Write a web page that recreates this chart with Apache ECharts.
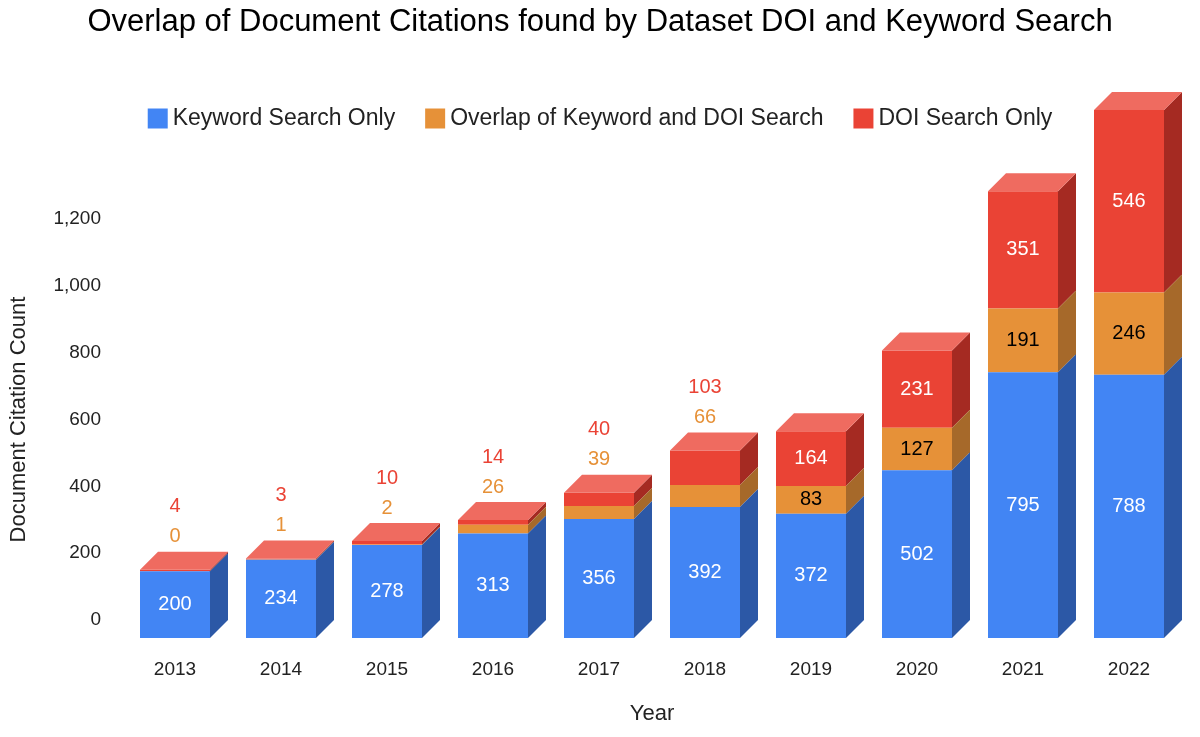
<!DOCTYPE html>
<html>
<head>
<meta charset="utf-8">
<script src="https://cdn.jsdelivr.net/npm/echarts@6/dist/echarts.min.js"></script>
<style>html,body{margin:0;padding:0;background:#fff}#chart{width:1200px;height:737px}</style>
</head>
<body>
<div id="chart"></div>
<script>
var years = ['2013','2014','2015','2016','2017','2018','2019','2020','2021','2022'];
var keywordOnly = [200,234,278,313,356,392,372,502,795,788];
var overlap = [0,1,2,26,39,66,83,127,191,246];
var doiOnly = [4,3,10,14,40,103,164,231,351,546];
var yTicks = [0,200,400,600,800,1000,1200];

var FONT = 'Liberation Sans';
var D = 18;       // depth offset of the 3d look
var BW = 70;      // bar width
var layers = [
  {name:'Keyword Search Only', vals:keywordOnly, front:'#4285f4', side:'#2c58a6', top:'#6c9ff6', text:'#fff'},
  {name:'Overlap of Keyword and DOI Search', vals:overlap, front:'#e69138', side:'#a6692a', top:'#eda860', text:'#000', outColor:'#e69138', minPx:25},
  {name:'DOI Search Only', vals:doiOnly, front:'#ea4335', side:'#a52a22', top:'#ef6b60', text:'#fff', outColor:'#ea4335', minPx:40}
];

var chart = echarts.init(document.getElementById('chart'));

function makeSeries(li) {
  var L = layers[li];
  var data = years.map(function (y, i) {
    var base = 0;
    for (var k = 0; k < li; k++) base += layers[k].vals[i];
    var total = keywordOnly[i] + overlap[i] + doiOnly[i];
    return [i, base, L.vals[i], total];
  });
  return {
    name: L.name,
    type: 'custom',
    clip: false,
    z: 10 - li,
    itemStyle: {color: L.front},
    data: data,
    renderItem: function (params, api) {
      var i = api.value(0), base = api.value(1), v = api.value(2), total = api.value(3);
      var c = api.coord([i, base]);
      var x1 = c[0] - BW / 2, x2 = c[0] + BW / 2;
      var yb = c[1] + D;
      var yt = api.coord([i, base + v])[1] + D;
      var h = yb - yt;
      var kids = [];
      if (h > 0.3) {
        kids.push({type:'rect', shape:{x:x1, y:yt, width:BW, height:h}, style:{fill:L.front}});
        kids.push({type:'polygon', shape:{points:[[x2,yt],[x2+D,yt-D],[x2+D,yb-D],[x2,yb]]}, style:{fill:L.side}});
      }
      var topY = api.coord([i, total])[1] + D;
      if (li === 2) {
        kids.push({type:'polygon', shape:{points:[[x1,topY],[x1+D,topY-D],[x2+D,topY-D],[x2,topY]]}, style:{fill:L.top}});
      }
      var label = String(v);
      var inside = !L.minPx || h >= L.minPx;
      var ty, col;
      if (inside) {
        ty = (yt + yb) / 2; col = L.text;
      } else {
        col = L.outColor;
        ty = topY - D - 15 - (li === 2 ? 30 : 0);
      }
      kids.push({type:'text', z2:20, style:{text:label, x:c[0], y:ty, fill:col, font:'20px ' + FONT, align:'center', verticalAlign:'middle'}});
      return {type:'group', children:kids};
    }
  };
}

chart.setOption({
  title: {text:'Overlap of Document Citations found by Dataset DOI and Keyword Search', left:'center', top:2,
    textStyle:{fontFamily:FONT, fontSize:31, fontWeight:'normal', color:'#000'}},
  legend: {top:102, left:'center', itemWidth:20, itemHeight:20, itemGap:30, icon:'rect',
    textStyle:{fontFamily:FONT, fontSize:23, color:'#222'},
    data: layers.map(function (l) { return {name:l.name, itemStyle:{color:l.front}}; })},
  grid: {left:121, right:18, top:219, bottom:117},
  xAxis: {type:'category', data:years, name:'Year', nameLocation:'middle', nameGap:83,
    nameTextStyle:{fontFamily:FONT, fontSize:22, color:'#222'},
    axisLine:{show:false}, axisTick:{show:false},
    axisLabel:{margin:40, fontFamily:FONT, fontSize:19, color:'#222'}},
  yAxis: {type:'value', min:yTicks[0], max:yTicks[yTicks.length-1], interval:200,
    name:'Document Citation Count', nameLocation:'middle', nameGap:92, nameRotate:90,
    nameTextStyle:{fontFamily:FONT, fontSize:22, color:'#222'},
    axisLine:{show:false}, axisTick:{show:false}, splitLine:{show:false},
    axisLabel:{margin:21, fontFamily:FONT, fontSize:19, color:'#222'}},
  series: [makeSeries(0), makeSeries(1), makeSeries(2)]
});
</script>
</body>
</html>
